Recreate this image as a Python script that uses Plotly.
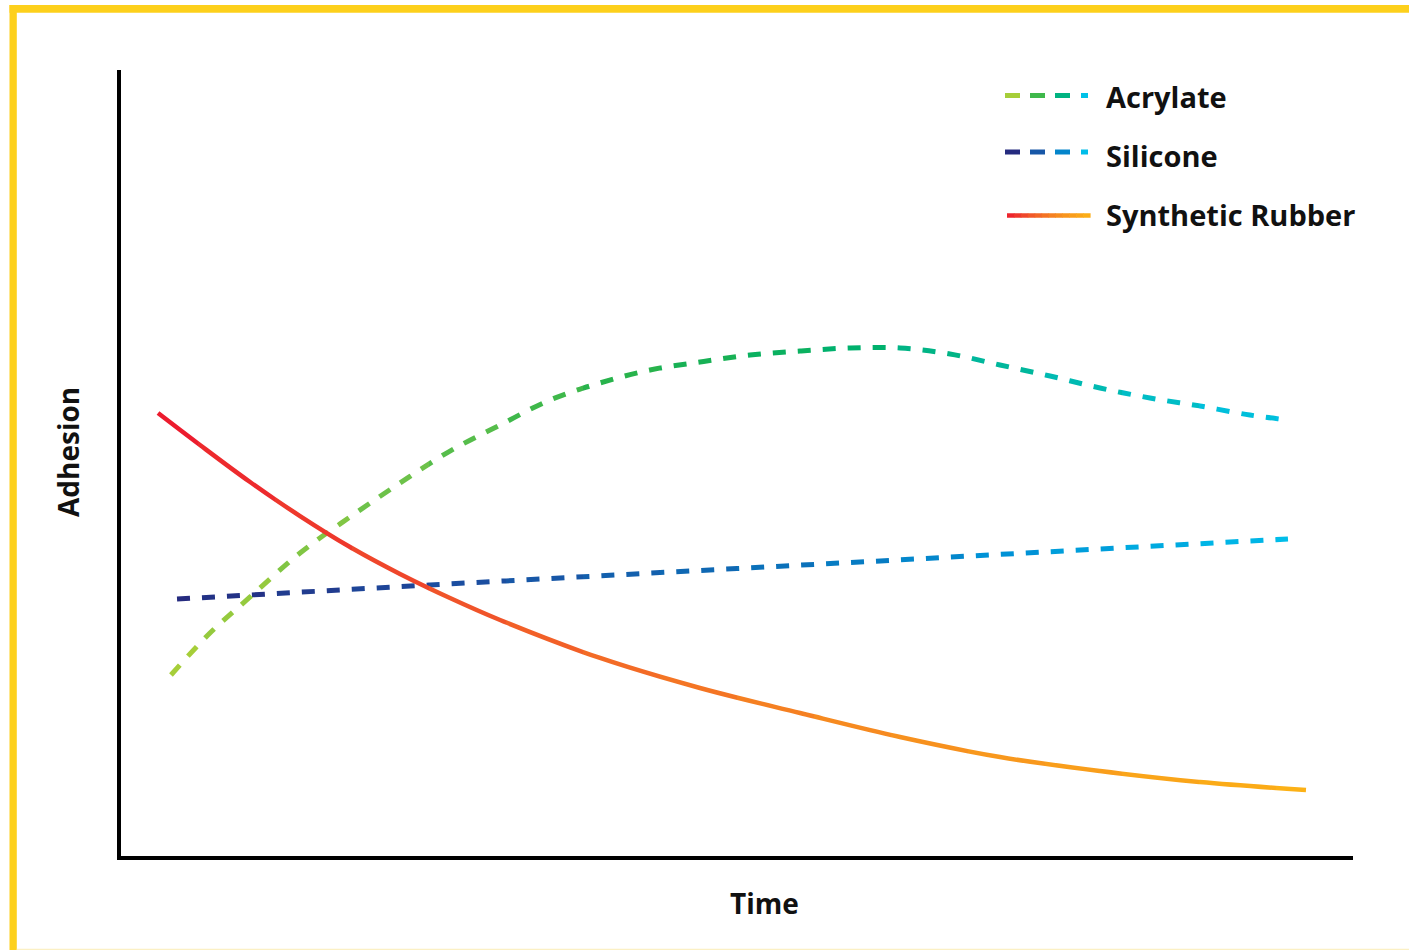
import plotly.graph_objects as go

# ---------------- data (arbitrary units) ----------------
time_acrylate = [4.21, 7.37, 10.62, 14.67, 18.72, 22.77, 26.82, 30.88, 34.93, 38.98, 43.03, 47.08,
                 51.13, 55.19, 59.24, 63.29, 67.34, 71.39, 75.45, 79.50, 83.55, 87.60, 91.65, 94.73]
adhesion_acrylate = [23.16, 28.50, 33.08, 38.68, 43.26, 47.58, 51.65, 54.96, 58.14, 60.31, 61.96, 62.98,
                     63.87, 64.38, 64.76, 64.76, 64.00, 62.60, 61.20, 59.67, 58.40, 57.38, 56.23, 55.60]

time_silicone = [4.70, 25.20, 46.27, 60.86, 79.50, 94.73]
adhesion_silicone = [32.82, 34.61, 36.39, 37.60, 39.19, 40.46]

time_rubber = [3.16, 6.56, 10.62, 14.67, 18.72, 22.77, 26.82, 30.88, 38.98, 47.08, 55.19, 63.29,
               71.39, 79.50, 87.60, 96.19]
adhesion_rubber = [56.49, 52.42, 47.71, 43.38, 39.44, 36.01, 32.95, 30.15, 25.32, 21.50, 18.32, 15.27,
                   12.72, 10.94, 9.54, 8.52]

series_names = ["Acrylate", "Silicone", "Synthetic Rubber"]
x_title = "Time"
y_title = "Adhesion"

# ---------------- styles ----------------
W, H = 1409, 950
PLOT_L, PLOT_R, PLOT_T, PLOT_B = 121, 1353, 70, 855.5
X_RANGE = [0.16, 100.0]
Y_RANGE = [0.19, 100.13]
N_SLICES = 16  # colour bands used to fake the gradient along each line

acrylate_stops = [(0, "#a6ce39"), (0.2, "#6cc24a"), (0.42, "#22b24c"), (0.6, "#00b06a"),
                  (0.78, "#00b9a7"), (1, "#00c1e8")]
silicone_stops = [(0, "#252b7f"), (0.25, "#1c4d9f"), (0.55, "#0a72bb"), (0.75, "#0093d6"), (1, "#00bde9")]
rubber_stops = [(0, "#ec1c2e"), (0.3, "#f15a29"), (0.6, "#f68a20"), (1, "#fcb116")]
YELLOW = "#FDD01C"
FONT = "Open Sans"
DASH = "13px,12px"


def hex2rgb(h):
    h = h.lstrip("#")
    return tuple(int(h[i:i + 2], 16) for i in (0, 2, 4))


def grad(stops, t):
    t = max(0.0, min(1.0, t))
    for (t0, c0), (t1, c1) in zip(stops[:-1], stops[1:]):
        if t0 <= t <= t1:
            f = (t - t0) / (t1 - t0) if t1 > t0 else 0
            a, b = hex2rgb(c0), hex2rgb(c1)
            r = [round(a[k] + (b[k] - a[k]) * f) for k in range(3)]
            return "rgb(%d,%d,%d)" % tuple(r)
    return stops[-1][1]


def px(xp):
    return xp / W


def py(yp):
    return 1 - yp / H


fig = go.Figure()

series = [
    (time_silicone, adhesion_silicone, silicone_stops, 5, DASH, "linear"),
    (time_acrylate, adhesion_acrylate, acrylate_stops, 5, DASH, "spline"),
    (time_rubber, adhesion_rubber, rubber_stops, 4.5, None, "spline"),
]

# invisible anchor trace on the main axes (which carry the black axis lines)
fig.add_trace(go.Scatter(x=[None], y=[None], mode="lines", showlegend=False, hoverinfo="skip"))

layout_axes = {}
slice_w = (PLOT_R - PLOT_L) / N_SLICES
for k in range(N_SLICES):
    a_px = PLOT_L + slice_w * k
    b_px = PLOT_L + slice_w * (k + 1)
    ra = X_RANGE[0] + (X_RANGE[1] - X_RANGE[0]) * k / N_SLICES
    rb = X_RANGE[0] + (X_RANGE[1] - X_RANGE[0]) * (k + 1) / N_SLICES
    name = "x%d" % (k + 2)
    layout_axes["xaxis%d" % (k + 2)] = dict(domain=[px(a_px), px(b_px)], range=[ra, rb], visible=False,
                                           anchor="y", fixedrange=True)
    xmid = (ra + rb) / 2
    for xs, ys, stops, width, dash, shape in series:
        t = (xmid - xs[0]) / (xs[-1] - xs[0])
        if rb < xs[0] or ra > xs[-1]:
            continue
        fig.add_trace(go.Scatter(
            x=xs, y=ys, xaxis=name, yaxis="y", mode="lines",
            line=dict(color=grad(stops, t), width=width, dash=dash, shape=shape, simplify=False),
            hoverinfo="skip", showlegend=False))

shapes = []
# yellow frame
shapes.append(dict(type="rect", xref="paper", yref="paper", x0=px(9.5), x1=px(16.8), y0=py(950), y1=py(5),
                   fillcolor=YELLOW, line=dict(width=0), layer="above"))
shapes.append(dict(type="rect", xref="paper", yref="paper", x0=px(9.5), x1=px(1409), y0=py(12.8), y1=py(5),
                   fillcolor=YELLOW, line=dict(width=0), layer="above"))
shapes.append(dict(type="rect", xref="paper", yref="paper", x0=px(16.8), x1=px(1409), y0=py(950), y1=py(948.7),
                   fillcolor="#FBF0C4", line=dict(width=0), layer="above"))

# legend keys
dash_x = [(1005, 1020), (1030, 1045), (1055, 1070), (1081, 1088)]
for yk, stops in ((95.5, acrylate_stops), (152, silicone_stops)):
    for k, (a, b) in enumerate(dash_x):
        shapes.append(dict(type="line", xref="paper", yref="paper", x0=px(a), x1=px(b), y0=py(yk), y1=py(yk),
                           line=dict(color=grad(stops, k / 3), width=5)))
nseg = 12
for k in range(nseg):
    a = 1007 + (1090 - 1007) * k / nseg
    b = 1007 + (1090 - 1007) * (k + 1) / nseg + 0.6
    shapes.append(dict(type="line", xref="paper", yref="paper", x0=px(a), x1=px(b), y0=py(215.5), y1=py(215.5),
                       line=dict(color=grad(rubber_stops, (k + 0.5) / nseg), width=4.5)))

annotations = []
for name, yc in zip(series_names, (96, 155, 214)):
    annotations.append(dict(text=name, xref="paper", yref="paper", x=px(1104), y=py(yc),
                            xanchor="left", yanchor="middle", showarrow=False,
                            font=dict(family=FONT, size=29, color="#111111", weight=700)))
annotations.append(dict(text=y_title, textangle=-90, xref="paper", yref="paper", x=px(68), y=py(452),
                        xanchor="center", yanchor="middle", showarrow=False,
                        font=dict(family=FONT, size=28, color="#111111", weight=700)))
annotations.append(dict(text=x_title, xref="paper", yref="paper", x=px(764), y=py(903),
                        xanchor="center", yanchor="middle", showarrow=False,
                        font=dict(family=FONT, size=28, color="#111111", weight=700)))

axis_common = dict(showline=True, linecolor="#000000", linewidth=4, showticklabels=False, ticks="",
                   showgrid=False, zeroline=False, fixedrange=True)
fig.update_layout(
    width=W, height=H,
    margin=dict(l=0, r=0, t=0, b=0),
    paper_bgcolor="white", plot_bgcolor="white",
    xaxis=dict(domain=[px(PLOT_L), px(PLOT_R)], range=X_RANGE, **axis_common),
    yaxis=dict(domain=[py(PLOT_B), py(PLOT_T)], range=Y_RANGE, anchor="x", **axis_common),
    shapes=shapes, annotations=annotations,
    showlegend=False,
    **layout_axes,
)

fig.write_html("out.html", config={"displayModeBar": False},
               post_script="document.body.style.margin='0';document.body.style.overflow='hidden';")
